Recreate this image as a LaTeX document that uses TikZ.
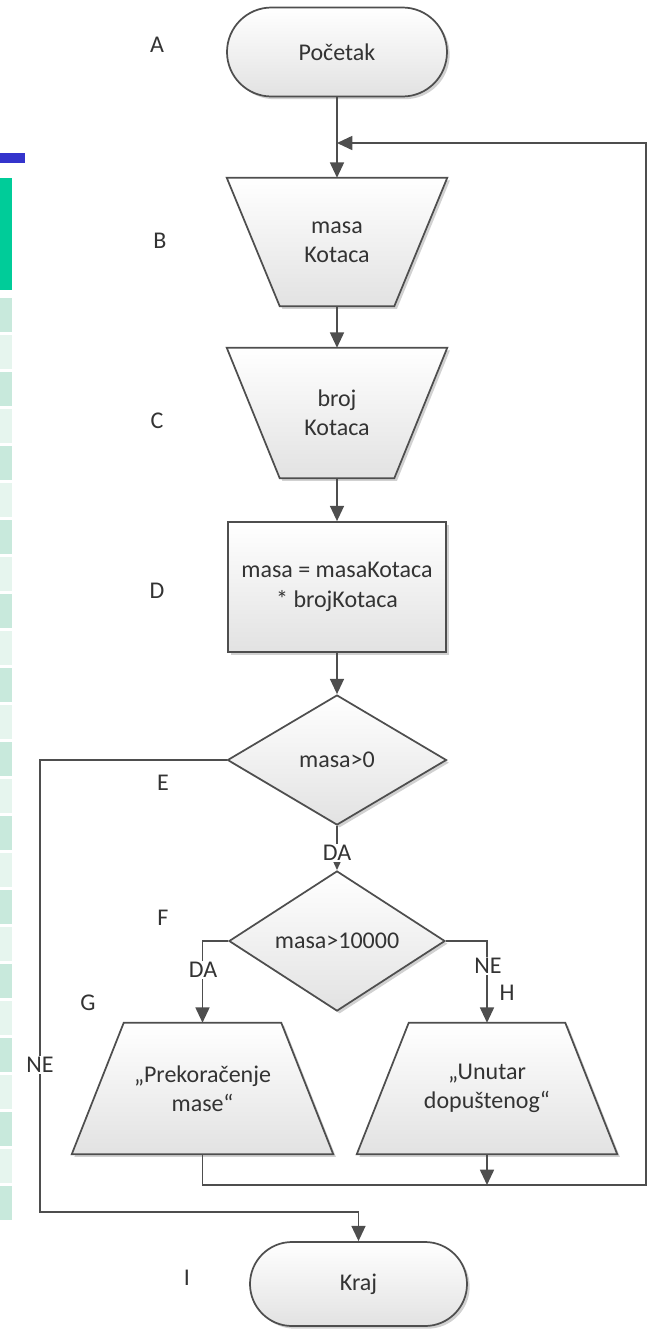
\documentclass[tikz,border=0pt]{standalone}
\usepackage{fontspec}
\setmainfont{Carlito}
\usetikzlibrary{shapes.geometric,shapes.misc,arrows.meta,shadows,backgrounds}
\definecolor{edge}{HTML}{4E4E4E}
\definecolor{ink}{HTML}{333333}
\definecolor{fillbot}{HTML}{E2E2E2}
\definecolor{bar}{HTML}{3434CC}
\definecolor{cellhi}{HTML}{00CC99}
\definecolor{cellA}{HTML}{C8E9DC}
\definecolor{cellB}{HTML}{E6F5EE}
\def\pxu{0.75pt}
\begin{document}
\begin{tikzpicture}[x=0.75pt,y=-0.75pt,
  font=\fontsize{18}{22}\selectfont, text=ink,
  shade/.style={draw=edge, line width=1.3pt, top color=white, bottom color=fillbot,
    drop shadow={shadow xshift=2pt, shadow yshift=-2pt, opacity=0.18, fill=black}},
  holder/.style={inner sep=0pt, align=center},
  term/.style={shade, rounded rectangle, inner sep=0pt, minimum width=220*\pxu},
  proc/.style={shade, rectangle, inner sep=0pt, align=center},
  dec/.style={shade, diamond, inner sep=0pt},
  conn/.style={draw=edge, line width=1.3pt},
  arr/.style={conn, -{Triangle[length=11.5pt,width=10.5pt]}},
  tag/.style={fill=white, inner sep=1pt},
  letter/.style={inner sep=0pt}
]
\useasboundingbox (0,0) rectangle (650,1329);

% page strip on the left edge
\fill[bar] (0,153) rectangle (25,163);
\fill[cellhi] (0,178) rectangle (12,290);
\foreach \i in {0,...,24}{
  \pgfmathsetmacro{\ytop}{298+37*\i}
  \pgfmathtruncatemacro{\odd}{mod(\i,2)}
  \ifnum\odd=0 \def\cc{cellA}\else\def\cc{cellB}\fi
  \fill[\cc] (0,\ytop) rectangle (12,\ytop+34);
}

% terminators, process and decisions
\node[term, minimum height=89*\pxu] (A) at (337,52) {Početak};
\node[holder, minimum width=220*\pxu, minimum height=128*\pxu] (B) at (337,242) {masa\\Kotaca};
\node[holder, minimum width=220*\pxu, minimum height=130*\pxu] (C) at (337,413) {broj\\Kotaca};
\node[proc, minimum width=218*\pxu, minimum height=130*\pxu] (D) at (337,587) {masa = masaKotaca\\* brojKotaca};
\node[dec, minimum width=219*\pxu, minimum height=130*\pxu] (E) at (337,760) {masa>0};
\node[dec, minimum width=216*\pxu, minimum height=126*\pxu] (F) at (337,941) {masa>10000};
\node[holder, minimum width=261*\pxu, minimum height=131*\pxu] (G) at (202.5,1088.5) {„Prekoračenje\\mase“};
\node[holder, minimum width=260*\pxu, minimum height=131*\pxu] (H) at (487,1088.5) {„Unutar\\dopuštenog“};
\node[term, minimum width=217*\pxu, minimum height=84*\pxu] (I) at (358.5,1284) {Kraj};

% input trapezoids (wide top) and output trapezoids (wide bottom)
\begin{scope}[on background layer]
  \path[shade] (B.north west) -- (B.north east) -- ([xshift=-53*\pxu]B.south east)
    -- ([xshift=53*\pxu]B.south west) -- cycle;
  \path[shade] (C.north west) -- (C.north east) -- ([xshift=-53*\pxu]C.south east)
    -- ([xshift=53*\pxu]C.south west) -- cycle;
  \path[shade] ([xshift=52*\pxu]G.north west) -- ([xshift=-52*\pxu]G.north east)
    -- (G.south east) -- (G.south west) -- cycle;
  \path[shade] ([xshift=52*\pxu]H.north west) -- ([xshift=-52*\pxu]H.north east)
    -- (H.south east) -- (H.south west) -- cycle;
\end{scope}

% step letters
\node[letter] (lA) at (157,45) {A};
\node[letter] (lB) at (160,241) {B};
\node[letter] (lC) at (157,421) {C};
\node[letter] (lD) at (157,591) {D};
\node[letter] (lE) at (163,783) {E};
\node[letter] (lF) at (163,918) {F};
\node[letter] (lG) at (88,1003) {G};
\node[letter] (lH) at (507,993) {H};
\node[letter] (lI) at (187,1278) {I};

% routing points
\coordinate (loopR) at (646,1185);
\coordinate (loopT) at (646,143);
\coordinate (merge) at (487,1185);
\coordinate (neTop) at (40,760);
\coordinate (neBot) at (40,1212);

% main flow
\draw[arr] (A.south) -- (B.north);
\draw[arr] (B.south) -- (C.north);
\draw[arr] (C.south) -- (D.north);
\draw[arr] (D.south) -- (E.north);
\draw[conn, -{Triangle[length=7pt,width=6pt]}] (E.south) -- (F.north);
\draw[arr] (F.west) -| (G.north);
\draw[arr] (F.east) -| (H.north);
\draw[arr] (E.west) -- (neTop) -- (neBot) -| (I.north);

% branch labels
\node[tag] (daE) at (337,853) {DA};
\node[tag] (daF) at (203,970) {DA};
\node[tag] (neF) at (488,966) {NE};
\node[tag] (neE) at (40,1065) {NE};

% loop back to the first input
\draw[arr] (G.south) |- (loopR) -- (loopT) -- (A.south |- loopT);
\draw[arr] (H.south) -- (merge);
\end{tikzpicture}
\end{document}
